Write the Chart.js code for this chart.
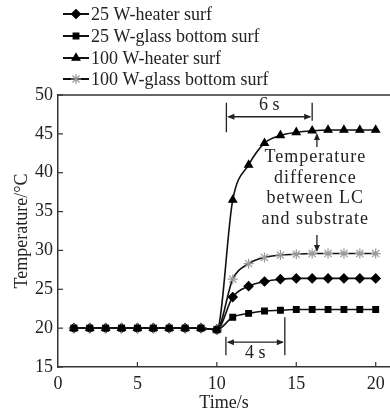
<!DOCTYPE html>
<html>
<head>
<meta charset="utf-8">
<script src="https://cdn.jsdelivr.net/npm/chart.js@4.4.1/dist/chart.umd.min.js"></script>
<style>
  html, body { margin: 0; padding: 0; background: #fff; }
  #wrap { width: 390px; height: 412px; position: relative; }
</style>
</head>
<body>
<div id="wrap"><canvas id="chart"></canvas></div>
<script>
// time axis (s) and the four measured series (°C)
const timeValues = [1, 2, 3, 4, 5, 6, 7, 8, 9, 10, 11, 12, 13, 14, 15, 16, 17, 18, 19, 20];
const heater25 = [20, 20, 20, 20, 20, 20, 20, 20, 20, 19.8, 24.0, 25.4, 26.0, 26.3, 26.4, 26.4, 26.4, 26.4, 26.4, 26.4];
const glass25 = [20, 20, 20, 20, 20, 20, 20, 20, 20, 19.8, 21.4, 21.9, 22.2, 22.3, 22.4, 22.4, 22.4, 22.4, 22.4, 22.4];
const heater100 = [20, 20, 20, 20, 20, 20, 20, 20, 20, 19.8, 36.5, 41.0, 43.8, 44.8, 45.2, 45.4, 45.5, 45.5, 45.5, 45.5];
const glass100 = [20, 20, 20, 20, 20, 20, 20, 20, 20, 19.8, 26.3, 28.3, 29.1, 29.4, 29.5, 29.6, 29.6, 29.6, 29.6, 29.6];

const seriesNames = ["25 W-heater surf", "25 W-glass bottom surf", "100 W-heater surf", "100 W-glass bottom surf"];
const xTickValues = [0, 5, 10, 15, 20];
const yTickValues = [15, 20, 25, 30, 35, 40, 45, 50];
const xMax = 20.9; // axis runs on past 20 to the right edge

const FONT = '"Liberation Serif", "Times New Roman", serif';
const INK = "#222";

function toPoints(values) {
  return timeValues.map((t, i) => ({ x: t, y: values[i] }));
}

// annotation positions in data units
const spans = [
  { label: "6 s", x1: 10.6, x2: 16.0, y: 47.2, bar1: [49.0, 45.2], bar2: [49.0, 46.7], labelY: 48.7 },
  { label: "4 s", x1: 10.57, x2: 14.28, y: 18.2, bar1: [18.9, 16.5], bar2: [21.4, 16.5], labelY: 16.8 }
];
const noteLines = ["Temperature", "difference", "between LC", "and substrate"];
const noteX = 16.2;
const noteYs = [42.0, 39.3, 36.7, 34.0];
const pointerArrows = [
  { x: 16.3, from: 43.3, to: 45.1 },
  { x: 16.3, from: 32.0, to: 29.8 }
];

function arrowHead(ctx, x, y, dx, dy) {
  // tip at (x,y), pointing in direction (dx,dy)
  const len = 7, half = 3;
  ctx.beginPath();
  ctx.moveTo(x, y);
  ctx.lineTo(x - dx * len - dy * half, y - dy * len + dx * half);
  ctx.lineTo(x - dx * len + dy * half, y - dy * len - dx * half);
  ctx.closePath();
  ctx.fill();
}

const framePlugin = {
  id: "frame",
  afterDraw(chart) {
    const ctx = chart.ctx;
    const xs = chart.scales.x, ys = chart.scales.y;
    const area = chart.chartArea;
    ctx.save();
    ctx.strokeStyle = "#333";
    ctx.lineWidth = 1.5;
    // top line
    ctx.beginPath();
    ctx.moveTo(area.left, area.top);
    ctx.lineTo(area.right, area.top);
    ctx.stroke();
    // inward ticks
    ctx.lineWidth = 1.2;
    xTickValues.forEach((v) => {
      if (v === 0) return;
      const px = xs.getPixelForValue(v);
      ctx.beginPath();
      ctx.moveTo(px, area.bottom);
      ctx.lineTo(px, area.bottom - 5);
      ctx.stroke();
    });
    yTickValues.forEach((v) => {
      const py = ys.getPixelForValue(v);
      ctx.beginPath();
      ctx.moveTo(area.left, py);
      ctx.lineTo(area.left + 5, py);
      ctx.stroke();
    });

    // span arrows
    ctx.strokeStyle = INK;
    ctx.fillStyle = INK;
    ctx.lineWidth = 1.3;
    ctx.font = "18px " + FONT;
    ctx.textAlign = "center";
    ctx.textBaseline = "middle";
    spans.forEach((s) => {
      const a = xs.getPixelForValue(s.x1), b = xs.getPixelForValue(s.x2);
      const py = ys.getPixelForValue(s.y);
      ctx.beginPath();
      ctx.moveTo(a, ys.getPixelForValue(s.bar1[0]));
      ctx.lineTo(a, ys.getPixelForValue(s.bar1[1]));
      ctx.moveTo(b, ys.getPixelForValue(s.bar2[0]));
      ctx.lineTo(b, ys.getPixelForValue(s.bar2[1]));
      ctx.moveTo(a + 2, py);
      ctx.lineTo(b - 2, py);
      ctx.stroke();
      arrowHead(ctx, a + 1, py, -1, 0);
      arrowHead(ctx, b - 1, py, 1, 0);
      ctx.fillText(s.label, (a + b) / 2, ys.getPixelForValue(s.labelY));
    });

    // pointer arrows
    pointerArrows.forEach((p) => {
      const px = xs.getPixelForValue(p.x);
      const y1 = ys.getPixelForValue(p.from), y2 = ys.getPixelForValue(p.to);
      const dir = y2 < y1 ? -1 : 1;
      ctx.beginPath();
      ctx.moveTo(px, y1);
      ctx.lineTo(px, y2 - dir * 3);
      ctx.stroke();
      arrowHead(ctx, px, y2, 0, dir);
    });

    // note text
    ctx.letterSpacing = "1px";
    noteLines.forEach((line, i) => {
      ctx.fillText(line, xs.getPixelForValue(noteX), ys.getPixelForValue(noteYs[i]));
    });
    ctx.letterSpacing = "0px";

    // legend
    const ds = chart.data.datasets;
    const rowYs = [14, 36, 58, 79];
    ctx.textAlign = "left";
    ds.forEach((d, i) => {
      const y = rowYs[i];
      ctx.strokeStyle = "#111";
      ctx.lineWidth = 2;
      ctx.beginPath();
      ctx.moveTo(63, y);
      ctx.lineTo(89, y);
      ctx.stroke();
      ctx.fillStyle = d.pointBackgroundColor;
      ctx.strokeStyle = d.pointBorderColor;
      ctx.lineWidth = 1.2;
      Chart.helpers.drawPoint(ctx, {
        pointStyle: d.pointStyle,
        radius: d.pointRadius,
        rotation: 0,
        borderWidth: 1.2
      }, 76, y);
      ctx.fillStyle = INK;
      ctx.fillText(d.label, 91, y + 1);
    });
    ctx.restore();
  }
};

function makeSet(i, values, style, radius, order, markColor) {
  return {
    label: seriesNames[i],
    data: toPoints(values),
    borderColor: "#111",
    borderWidth: 1.6,
    pointStyle: style,
    pointRadius: radius,
    pointBackgroundColor: markColor,
    pointBorderColor: markColor,
    pointBorderWidth: 1.2,
    cubicInterpolationMode: "monotone",
    order: order
  };
}

new Chart(document.getElementById("chart"), {
  type: "line",
  data: {
    datasets: [
      makeSet(0, heater25, "rectRot", 4.5, 2, "#000"),
      makeSet(1, glass25, "rect", 4, 0, "#000"),
      makeSet(2, heater100, "triangle", 4.5, 3, "#000"),
      makeSet(3, glass100, "star", 5, 1, "#999")
    ]
  },
  options: {
    responsive: true,
    maintainAspectRatio: false,
    animation: false,
    layout: { autoPadding: false, padding: { top: 95, left: 0, right: 0, bottom: 0 } },
    plugins: { legend: { display: false }, tooltip: { enabled: false } },
    scales: {
      x: {
        type: "linear",
        min: 0,
        max: xMax,
        afterBuildTicks: (scale) => { scale.ticks = xTickValues.map((v) => ({ value: v })); },
        afterFit: (scale) => {
          scale.height = 45;
          // let the axis run right to the canvas edge
          scale.paddingRight = 0;
          scale.paddingLeft = 0;
        },
        grid: { display: true, drawOnChartArea: false, drawTicks: false },
        border: { display: true, color: "#333", width: 1.5 },
        ticks: { color: INK, font: { family: FONT, size: 18 }, padding: 6, maxRotation: 0 },
        title: { display: true, text: "Time/s", color: INK, font: { family: FONT, size: 18, lineHeight: 1 }, padding: { top: 0, bottom: 0 } }
      },
      y: {
        min: 15,
        max: 50,
        afterBuildTicks: (scale) => { scale.ticks = yTickValues.map((v) => ({ value: v })); },
        afterFit: (scale) => { scale.width = 58; },
        grid: { display: true, drawOnChartArea: false, drawTicks: false },
        border: { display: true, color: "#333", width: 1.5 },
        ticks: { color: INK, font: { family: FONT, size: 18 }, padding: 5 },
        title: { display: true, text: "Temperature/°C", color: INK, font: { family: FONT, size: 18 }, padding: { top: 11, bottom: 0 } }
      }
    }
  },
  plugins: [framePlugin]
});
</script>
</body>
</html>
